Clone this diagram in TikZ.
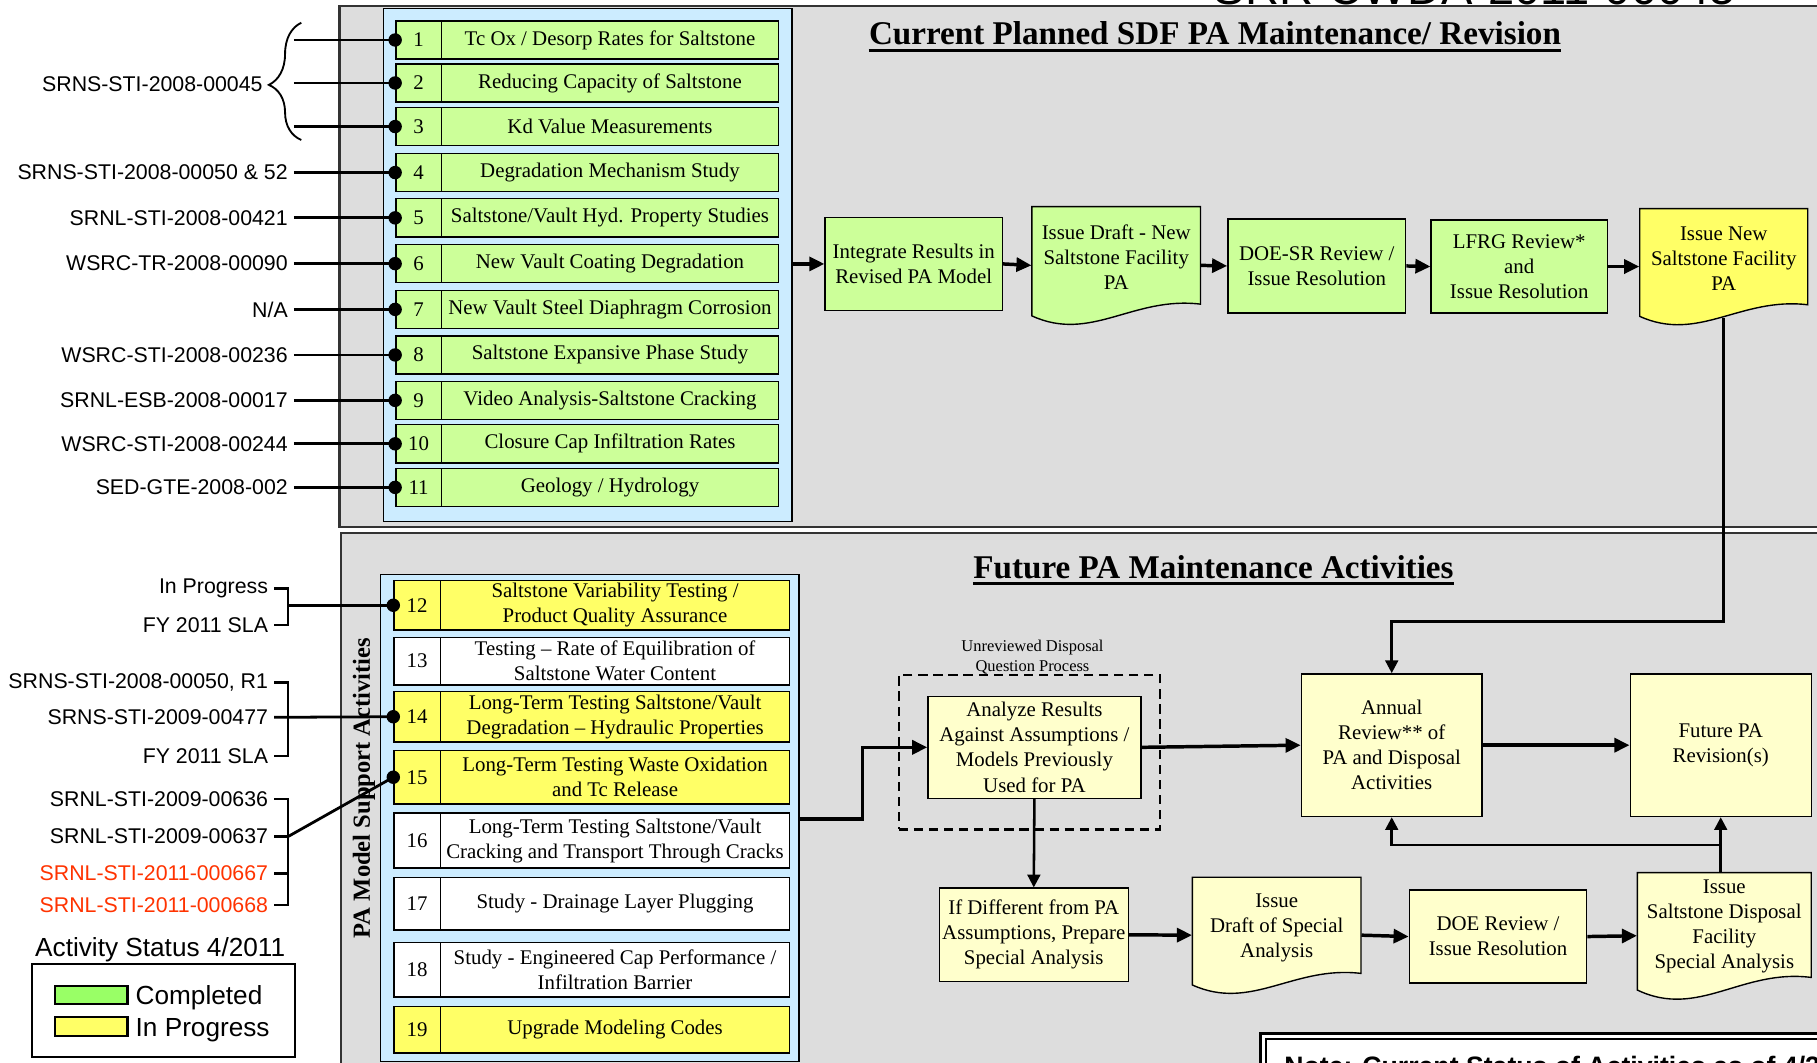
\documentclass[tikz,border=0pt]{standalone}
\usepackage{fontspec}
\setmainfont{Liberation Serif}
\newfontfamily\arialf{Liberation Sans}
\usetikzlibrary{arrows.meta,decorations.pathreplacing,calc}
\definecolor{panelgray}{HTML}{DDDDDD}
\definecolor{panelblue}{HTML}{CCECFF}
\definecolor{itemgreen}{HTML}{CCFF99}
\definecolor{itemyellow}{HTML}{FFFF66}
\definecolor{paleyellow}{HTML}{FFFFCC}
\definecolor{leggreen}{HTML}{99FF66}
\definecolor{refred}{HTML}{FF3300}

% box node from corners: name, x0, y0, x1, y1, style, text
\newcommand\bx[7]{%
 \pgfmathsetmacro\bxcx{(#2+#4)/2}%
 \pgfmathsetmacro\bxcy{(#3+#5)/2}%
 \pgfmathsetmacro\bxw{abs(#4-#2)*0.5}%
 \pgfmathsetmacro\bxh{abs(#5-#3)*0.5}%
 \node[#6,minimum width=\bxw pt,minimum height=\bxh pt] (#1) at (\bxcx,\bxcy) {#7};}

% document shape: name, x0, y0, x1, y1, fill, text, text shift (pt)
\newcommand\docbx[8]{%
 \pgfmathsetmacro\bxH{#5-#3}%
 \pgfmathsetmacro\bxW{#4-#2}%
 \pgfmathsetmacro\ybR{#5-0.17*\bxH}%
 \pgfmathsetmacro\ybL{#5-0.07*\bxH}%
 \pgfmathsetmacro\cAx{#2+0.6*\bxW}\pgfmathsetmacro\cAy{#5-0.24*\bxH}%
 \pgfmathsetmacro\cBx{#2+0.35*\bxW}\pgfmathsetmacro\cBy{#5+0.16*\bxH}%
 \draw[boxline,fill=#6] (#2,#3) -- (#4,#3) -- (#4,\ybR) .. controls (\cAx,\cAy) and (\cBx,\cBy) .. (#2,\ybL) -- cycle;
 \bx{#1}{#2}{#3}{#4}{#5}{anchorbox}{}%
 \node[flowtext] at ([yshift=#8pt]#1.center) {#7};}

% item row: id, x0, xd, x1, ytop, ybot, fill, text
\newcommand\itemrow[8]{%
 \bx{n#1}{#2}{#5}{#3}{#6}{cellbox,fill=#7}{#1}%
 \bx{t#1}{#3}{#5}{#4}{#6}{cellbox,fill=#7}{#8}}

\begin{document}
\begin{tikzpicture}[x=0.5pt,y=-0.5pt,
 boxline/.style={draw=black,line width=0.6pt},
 cellbox/.style={draw=black,line width=0.6pt,inner sep=0pt,align=center,font=\fontsize{9}{10.8}\selectfont},
 flowbox/.style={draw=black,line width=0.6pt,inner sep=0pt,align=center,font=\fontsize{9}{10.8}\selectfont},
 anchorbox/.style={inner sep=0pt},
 flowtext/.style={inner sep=0pt,align=center,font=\fontsize{9}{10.8}\selectfont},
 reflab/.style={font=\arialf\fontsize{9.2}{11}\selectfont,inner xsep=2.4pt,inner ysep=0pt,anchor=east},
 legtext/.style={font=\arialf\fontsize{11.3}{13}\selectfont,inner sep=0pt},
 conn/.style={line width=1.2pt},
 arrthick/.style={line width=1.5pt,-{Triangle[length=6.5pt,width=6pt]}},
 arrthin/.style={line width=1.1pt,-{Triangle[length=5.5pt,width=5.5pt]}},
]
\useasboundingbox (0,0) rectangle (1568,917.3);
\fill[white] (0,0) rectangle (1568,917.3);

% panels
\draw[fill=panelgray,draw=black!80,line width=0.9pt] (293,5.5) rectangle (1640,454.7);
\draw[fill=panelgray,draw=black!80,line width=0.9pt] (294,460) rectangle (1640,950);
\bx{bp1}{331}{7.2}{683.5}{450}{boxline,fill=panelblue,inner sep=0pt}{}
\bx{bp2}{328.4}{496}{689.4}{915.8}{boxline,fill=panelblue,inner sep=0pt}{}

\node[font=\arialf\fontsize{20.3}{24}\selectfont,anchor=base west,inner sep=0pt] (docid) at (1047,4.3) {SRR-CWDA-2011-00045};

% titles
\node[font=\bfseries\fontsize{14.3}{17}\selectfont,anchor=base,inner sep=0pt] (title1) at (1048.5,38.8) {Current Planned SDF PA Maintenance/ Revision};
\draw[line width=1.1pt] ([yshift=-2.5pt]title1.base west) -- ([yshift=-2.5pt]title1.base east);
\node[font=\bfseries\fontsize{14.3}{17}\selectfont,anchor=base,inner sep=0pt] (title2) at (1047.2,499) {Future PA Maintenance Activities};
\draw[line width=1.1pt] ([yshift=-2.2pt]title2.base west) -- ([yshift=-2.2pt]title2.base east);

\node[rotate=90,font=\bfseries\fontsize{10.6}{12}\selectfont,inner sep=0pt] (pams) at (314,680) {PA Model Support Activities};

% top items
\itemrow{1}{341.6}{380.8}{672}{18}{51}{itemgreen}{Tc Ox / Desorp Rates for Saltstone}
\itemrow{2}{341.6}{380.8}{672}{55.1}{88.1}{itemgreen}{Reducing Capacity of Saltstone}
\itemrow{3}{341.6}{380.8}{672}{92.7}{125.7}{itemgreen}{Kd Value Measurements}
\itemrow{4}{341.6}{380.8}{672}{132.4}{165.4}{itemgreen}{Degradation Mechanism Study}
\itemrow{5}{341.6}{380.8}{672}{171.5}{204.5}{itemgreen}{Saltstone/Vault Hyd. Property Studies}
\itemrow{6}{341.6}{380.8}{672}{211}{244}{itemgreen}{New Vault Coating Degradation}
\itemrow{7}{341.6}{380.8}{672}{250.5}{283.5}{itemgreen}{New Vault Steel Diaphragm Corrosion}
\itemrow{8}{341.6}{380.8}{672}{289.8}{322.8}{itemgreen}{Saltstone Expansive Phase Study}
\itemrow{9}{341.6}{380.8}{672}{329}{362}{itemgreen}{Video Analysis-Saltstone Cracking}
\itemrow{10}{341.6}{380.8}{672}{366.5}{399.5}{itemgreen}{Closure Cap Infiltration Rates}
\itemrow{11}{341.6}{380.8}{672}{404.1}{437.1}{itemgreen}{Geology / Hydrology}

% bottom items
\itemrow{12}{340}{380}{681.5}{501}{543.6}{itemyellow}{Saltstone Variability Testing /\\Product Quality Assurance}
\itemrow{13}{340}{380}{681.5}{549.9}{591}{white}{Testing – Rate of Equilibration of\\Saltstone Water Content}
\itemrow{14}{340}{380}{681.5}{596.8}{640.2}{itemyellow}{Long-Term Testing Saltstone/Vault\\Degradation – Hydraulic Properties}
\itemrow{15}{340}{380}{681.5}{647.7}{693.7}{itemyellow}{Long-Term Testing Waste Oxidation\\and Tc Release}
\itemrow{16}{340}{380}{681.5}{701.7}{749.2}{white}{Long-Term Testing Saltstone/Vault\\Cracking and Transport Through Cracks}
\itemrow{17}{340}{380}{681.5}{757}{802.4}{white}{Study - Drainage Layer Plugging}
\itemrow{18}{340}{380}{681.5}{813.4}{860.5}{white}{Study - Engineered Cap Performance /\\Infiltration Barrier}
\itemrow{19}{340}{380}{681.5}{868.6}{908.8}{itemyellow}{Upgrade Modeling Codes}

% top reference labels
\coordinate (labx) at (253.5,0);
\node[reflab] (l123) at (231.8,72.5) {SRNS-STI-2008-00045};
\draw[line width=0.8pt,decorate,decoration={brace,amplitude=14pt,aspect=0.47}] (260,120.8) -- (260,19.6);
\foreach \i in {1,2,3}{
  \coordinate (b\i) at (n\i.west -| labx);
  \draw[conn] (b\i) -- (n\i.west);
}
\node[reflab] (l4) at (n4.west -| labx) {SRNS-STI-2008-00050 \& 52\ };
\node[reflab] (l5) at (n5.west -| labx) {SRNL-STI-2008-00421};
\node[reflab] (l6) at (n6.west -| labx) {WSRC-TR-2008-00090};
\node[reflab] (l7) at (n7.west -| labx) {N/A};
\node[reflab] (l8) at (n8.west -| labx) {WSRC-STI-2008-00236};
\node[reflab] (l9) at (n9.west -| labx) {SRNL-ESB-2008-00017};
\node[reflab] (l10) at (n10.west -| labx) {WSRC-STI-2008-00244};
\node[reflab] (l11) at (n11.west -| labx) {SED-GTE-2008-002};
\foreach \i in {4,5,6,7,8,9,10,11}{
  \draw[conn] (l\i.east) -- (n\i.west);
}

% bottom reference labels
\node[reflab] (ip) at (236.5,507.6) {In Progress};
\node[reflab] (fy1) at (236.5,539.3) {FY 2011 SLA\ };
\coordinate (k1) at (248.6,522.3);
\draw[conn] (ip.east) -| (k1) |- (fy1.east);
\draw[conn] (k1) -- (n12.west);

\node[reflab] (g2a) at (236.5,589) {SRNS-STI-2008-00050, R1};
\node[reflab] (g2b) at (236.5,619) {SRNS-STI-2009-00477};
\node[reflab] (g2c) at (236.5,652.3) {FY 2011 SLA\ };
\coordinate (k2) at (248.6,619);
\draw[conn] (g2a.east) -| (k2) |- (g2c.east);
\draw[conn] (g2b.east) -- (n14.west);

\node[reflab] (g3a) at (236.5,689.5) {SRNL-STI-2009-00636};
\node[reflab] (g3b) at (236.5,721.9) {SRNL-STI-2009-00637};
\node[reflab,text=refred] (g3c) at (236.5,753.5) {SRNL-STI-2011-000667};
\node[reflab,text=refred] (g3d) at (236.5,781) {SRNL-STI-2011-000668};
\coordinate (k3) at (248.6,721.9);
\draw[conn] (g3a.east) -| (k3) |- (g3d.east);
\draw[conn] (g3b.east) -- (g3b.east -| k3);
\draw[conn] (g3c.east) -- (g3c.east -| k3);
\draw[conn] (k3) -- (n15.west);

\foreach \i in {1,2,3,4,5,6,7,8,9,10,11,12,14,15}{
  \fill (n\i.west) circle[radius=2.9pt];
}

% legend
\node[legtext,anchor=west] (legt) at (30,819.7) {Activity Status 4/2011};
\bx{leg}{27.3}{831.7}{254.4}{912.3}{draw=black,line width=0.9pt,fill=white,inner sep=0pt}{}
\bx{sw1}{47.5}{850.5}{110}{866.2}{draw=black,line width=0.9pt,fill=leggreen,inner sep=0pt}{}
\bx{sw2}{47.5}{877.7}{110}{893.9}{draw=black,line width=0.9pt,fill=itemyellow,inner sep=0pt}{}
\node[legtext,anchor=west] (lc) at (116.7,861.4) {Completed};
\node[legtext,anchor=west] (lp) at (116.7,888.7) {In Progress};

% top flow
\bx{integ}{712}{187.5}{865}{268}{flowbox,fill=itemgreen}{Integrate Results in\\Revised PA Model}
\docbx{draft1}{890.5}{178.3}{1036}{279.7}{itemgreen}{Issue Draft - New\\Saltstone Facility\\PA}{3.5}
\bx{doesr}{1059.6}{189}{1213}{270}{flowbox,fill=itemgreen}{DOE-SR Review /\\Issue Resolution}
\bx{lfrg}{1235}{190}{1387}{270}{flowbox,fill=itemgreen}{LFRG Review*\\and\\Issue Resolution}
\docbx{issuenew}{1415}{180}{1560}{280}{itemyellow}{Issue New\\Saltstone Facility\\PA}{3.5}

\draw[arrthick] (integ.west -| bp1.east) -- (integ.west);
\draw[arrthick] (integ.east) -- (draft1.west);
\draw[arrthick] (draft1.east) -- (doesr.west);
\draw[arrthick] (doesr.east) -- (lfrg.west);
\draw[arrthick] (lfrg.east) -- (issuenew.west);

% future flow
\node[font=\fontsize{7.1}{8.3}\selectfont,align=center,inner sep=0pt] (udq) at (891,567) {Unreviewed Disposal\\Question Process};
\bx{udqbox}{775.7}{582.4}{1001}{715.5}{draw,line width=1.2pt,dash pattern=on 4pt off 2.5pt,inner sep=0pt}{}
\bx{analyze}{800.8}{601}{984.5}{688.8}{flowbox,fill=paleyellow}{Analyze Results\\Against Assumptions /\\Models Previously\\Used for PA}
\bx{annual}{1123}{581.5}{1279}{704.6}{flowbox,fill=paleyellow}{Annual\\Review** of\\PA and Disposal\\Activities}
\bx{future}{1406.8}{581.5}{1563}{704.6}{flowbox,fill=paleyellow}{Future PA\\Revision(s)}
\bx{ifdiff}{810.5}{766.4}{973.7}{847}{flowbox,fill=paleyellow}{If Different from PA\\Assumptions, Prepare\\Special Analysis}
\docbx{draft2}{1029}{757}{1174.5}{857}{paleyellow}{Issue\\Draft of Special\\Analysis}{3.2}
\bx{doe2}{1216.2}{768}{1369.2}{848.4}{flowbox,fill=paleyellow}{DOE Review /\\Issue Resolution}
\docbx{issuesa}{1413}{753}{1563}{862}{paleyellow}{Issue\\Saltstone Disposal\\Facility\\Special Analysis}{4}

\draw[arrthin] ([yshift=3pt]issuenew.south) |- ($(annual.north)+(0,-44.5)$) -- (annual.north);
\coordinate (s2) at (689.4,706.6);
\draw[arrthick] (s2) -- ++(55,0) |- (analyze.west);
\draw[arrthick] (analyze.east) -- (annual.west);
\draw[arrthick] (annual.east) -- (future.west);
\draw[arrthin] (analyze.south) -- (ifdiff.north);
\draw[arrthick] (ifdiff.east) -- (draft2.west);
\draw[arrthick] (draft2.east) -- (doe2.west);
\draw[arrthick] (doe2.east) -- (issuesa.west);
\draw[arrthin] (issuesa.north -| future.south) -- (future.south);
\draw[arrthin] ($(future.south)+(0,24)$) -| (annual.south);

% note box
\draw[line width=1.4pt,fill=white] (1087.8,891.6) rectangle (1700,1000);
\draw[line width=0.8pt] (1092.6,896.7) rectangle (1700,1000);
\node[font=\arialf\bfseries\fontsize{11.5}{14}\selectfont,anchor=base west,inner sep=0pt] (note) at (1108,928.2) {Note: Current Status of Activities as of 4/2011};
\end{tikzpicture}
\end{document}
